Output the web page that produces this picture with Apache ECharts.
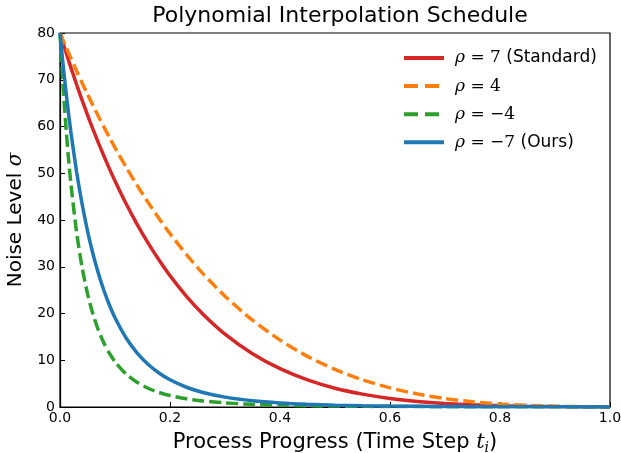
<!DOCTYPE html>
<html>
<head>
<meta charset="utf-8">
<script src="https://cdn.jsdelivr.net/npm/echarts@6/dist/echarts.min.js"></script>
<style>html,body{margin:0;padding:0;background:#fff}#c{width:621px;height:453px}</style>
</head>
<body>
<div id="c"></div>
<script>
// Time step positions (x)
const tVals = [0, 0.005, 0.01, 0.015, 0.02, 0.03, 0.04, 0.05, 0.06, 0.07, 0.08, 0.09, 0.10, 0.12, 0.14, 0.16, 0.18, 0.20, 0.23, 0.26, 0.30, 0.35, 0.40, 0.45, 0.50, 0.55, 0.60, 0.65, 0.70, 0.75, 0.80, 0.85, 0.90, 0.95, 1.00];
// Noise level values (sigma) for each curve
const rhoPos7 = [80, 78.08, 76.19, 74.35, 72.54, 69.04, 65.69, 62.47, 59.40, 56.45, 53.63, 50.93, 48.34, 43.52, 39.11, 35.09, 31.43, 28.10, 23.67, 19.86, 15.60, 11.40, 8.20, 5.80, 4.02, 2.76, 1.84, 1.20, 0.759, 0.465, 0.275, 0.156, 0.084, 0.042, 0.02];
const rhoPos4 = [80, 78.61, 77.24, 75.89, 74.55, 71.93, 69.38, 66.90, 64.49, 62.14, 59.86, 57.64, 55.48, 51.35, 47.46, 43.78, 40.33, 37.09, 32.59, 28.52, 23.70, 18.56, 14.31, 10.83, 8.03, 5.81, 4.09, 2.78, 1.81, 1.12, 0.653, 0.348, 0.165, 0.066, 0.02];
const rhoNeg4 = [80, 69.78, 61.14, 53.80, 47.52, 37.50, 29.98, 24.25, 19.83, 16.38, 13.64, 11.45, 9.686, 7.066, 5.275, 4.018, 3.113, 2.450, 1.753, 1.287, 0.882, 0.576, 0.391, 0.275, 0.199, 0.148, 0.112, 0.086, 0.068, 0.054, 0.043, 0.035, 0.029, 0.024, 0.02];
const rhoNeg7 = [80, 73.92, 68.37, 63.28, 58.63, 50.44, 43.53, 37.69, 32.72, 28.49, 24.87, 21.77, 19.10, 14.81, 11.59, 9.142, 7.268, 5.820, 4.224, 3.110, 2.108, 1.334, 0.869, 0.579, 0.395, 0.275, 0.195, 0.140, 0.103, 0.076, 0.057, 0.043, 0.033, 0.026, 0.02];
// Series names and tick labels
const seriesNames = ['rho7', 'rho4', 'rhom4', 'rhom7'];
const xTicks = [0, 0.2, 0.4, 0.6, 0.8, 1.0];
const yTicks = [0, 10, 20, 30, 40, 50, 60, 70, 80];

const legendText = {
  rho7: '{i|ρ}{m| = 7}{s| (Standard)}',
  rho4: '{i|ρ}{m| = 4}',
  rhom4: '{i|ρ}{m| = −4}',
  rhom7: '{i|ρ}{m| = −7}{s| (Ours)}'
};
const colors = ['#d62728', '#ff7f0e', '#2ca02c', '#1f77b4'];
const dashes = ['solid', [12, 5], [12, 5], 'solid'];
const legendDashes = ['solid', [14, 7], [14, 7], 'solid'];
const allData = [rhoPos7, rhoPos4, rhoNeg4, rhoNeg7];

const chart = echarts.init(document.getElementById('c'), null, {renderer: 'canvas'});
const sans = 'DejaVu Sans';
const serif = 'DejaVu Serif';

chart.setOption({
  animation: false,
  backgroundColor: '#fff',
  title: {
    text: 'Polynomial Interpolation Schedule',
    left: 335, textAlign: 'center', top: 0,
    textStyle: {fontFamily: sans, fontSize: 22, fontWeight: 'normal', color: '#000'}
  },
  grid: {left: 60, right: 11, top: 33, bottom: 46, show: true, borderColor: '#000', borderWidth: 1.2, backgroundColor: 'transparent', outerBoundsMode: 'none', containLabel: false},
  legend: {
    orient: 'vertical', left: 402, top: 49.5, padding: 0,
    itemWidth: 40, itemHeight: 16, itemGap: 11.1,
    data: seriesNames.map((n, k) => ({name: n, lineStyle: {type: legendDashes[k], width: 4}})),
    itemStyle: {opacity: 0, borderWidth: 0},
    lineStyle: {width: 4},
    formatter: n => legendText[n],
    textStyle: {
      fontSize: 17, color: '#000', padding: [0, 0, 0, 6],
      rich: {
        i: {fontFamily: serif, fontStyle: 'italic', fontSize: 17, color: '#000'},
        m: {fontFamily: serif, fontSize: 17, color: '#000'},
        s: {fontFamily: sans, fontSize: 17, color: '#000'}
      }
    }
  },
  xAxis: {
    type: 'value', min: 0, max: 1, interval: 0.2,
    name: 'Process Progress (Time Step {t|t}{u|i})',
    nameLocation: 'middle', nameGap: 24,
    nameTextStyle: {
      fontFamily: sans, fontSize: 21, color: '#000', verticalAlign: 'top',
      rich: {
        t: {fontFamily: serif, fontStyle: 'italic', fontSize: 21, color: '#000'},
        u: {fontFamily: serif, fontStyle: 'italic', fontSize: 14, color: '#000', padding: [10, 0, 0, 0]}
      }
    },
    axisLine: {show: true, lineStyle: {color: '#000', width: 1.2}},
    axisTick: {show: true, inside: true, length: 5, lineStyle: {color: '#000', width: 1}},
    axisLabel: {fontFamily: sans, fontSize: 14, color: '#000', margin: 4, formatter: v => v.toFixed(1)},
    splitLine: {show: false}
  },
  yAxis: {
    type: 'value', min: 0, max: 80, interval: 10,
    name: 'Noise Level {s|σ}',
    nameLocation: 'middle', nameGap: 28, nameRotate: 90,
    nameTextStyle: {
      fontFamily: sans, fontSize: 20, color: '#000',
      rich: {s: {fontFamily: serif, fontStyle: 'italic', fontSize: 20, color: '#000'}}
    },
    axisLine: {show: true, lineStyle: {color: '#000', width: 1.2}},
    axisTick: {show: true, inside: true, length: 5, lineStyle: {color: '#000', width: 1}},
    axisLabel: {fontFamily: sans, fontSize: 14, color: '#000', margin: 5},
    splitLine: {show: false}
  },
  series: seriesNames.map((n, k) => ({
    name: n, type: 'line', showSymbol: false, symbol: 'none',
    smooth: 0.25,
    data: tVals.map((t, i) => [t, allData[k][i]]),
    lineStyle: {color: colors[k], width: 3.5, type: dashes[k]},
    itemStyle: {color: colors[k]},
    z: 2 + k
  }))
});
</script>
</body>
</html>
